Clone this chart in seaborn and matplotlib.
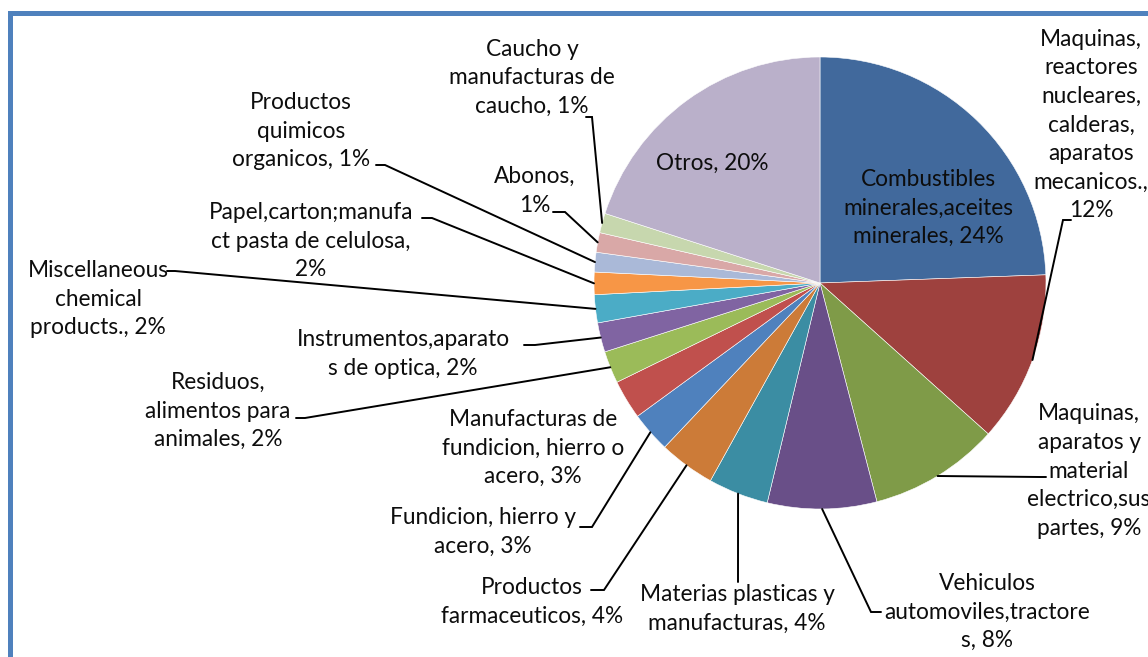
import matplotlib
matplotlib.use("Agg")
import matplotlib.pyplot as plt
import seaborn as sns
import numpy as np
from matplotlib.patches import Rectangle

# ---- data ----
categories = [
    "Combustibles minerales,aceites minerales",
    "Maquinas, reactores nucleares, calderas, aparatos mecanicos.",
    "Maquinas, aparatos y material electrico,sus partes",
    "Vehiculos automoviles,tractores",
    "Materias plasticas y manufacturas",
    "Productos farmaceuticos",
    "Fundicion, hierro y acero",
    "Manufacturas de fundicion, hierro o acero",
    "Residuos, alimentos para animales",
    "Instrumentos,aparatos de optica",
    "Miscellaneous chemical products.",
    "Papel,carton;manufact pasta de celulosa",
    "Productos quimicos organicos",
    "Abonos",
    "Caucho y manufacturas de caucho",
    "Otros",
]
values = [24.4, 12.2, 9.3, 7.8, 4.3, 4.0, 2.9, 2.8, 2.3, 2.1, 2.0, 1.6, 1.4, 1.4, 1.4, 20.0]

# label text as wrapped in the chart ({} = percentage)
label_templates = [
    "Combustibles\nminerales,aceites\nminerales, {}",
    "Maquinas,\nreactores\nnucleares,\ncalderas,\naparatos\nmecanicos.,\n{}",
    "Maquinas,\naparatos y\nmaterial\nelectrico,sus\npartes, {}",
    "Vehiculos\nautomoviles,tractore\ns, {}",
    "Materias plasticas y\nmanufacturas, {}",
    "Productos\nfarmaceuticos, {}",
    "Fundicion, hierro y\nacero, {}",
    "Manufacturas de\nfundicion, hierro o\nacero, {}",
    "Residuos,\nalimentos para\nanimales, {}",
    "Instrumentos,aparato\ns de optica, {}",
    "Miscellaneous\nchemical\nproducts., {}",
    "Papel,carton;manufa\nct pasta de celulosa,\n{}",
    "Productos\nquimicos\norganicos, {}",
    "Abonos,\n{}",
    "Caucho y\nmanufacturas de\ncaucho, {}",
    "Otros, {}",
]

colors = [
    "#41699C", "#9E413E", "#7F9B48", "#694F88", "#3B8DA3", "#CC7B38",
    "#4F81BD", "#C0504D", "#9BBB59", "#8064A2", "#4BACC6", "#F79646",
    "#AAB9D8", "#D9A8A7", "#C7D7AE", "#BAB0CA",
]

# ---- layout (image pixel coordinates, y downward) ----
W, H = 1148, 657
CX, CY, R = 820, 283, 226

def Y(y):
    return H - y

# label centre positions
label_pos = [
    (928, 208), (1091, 125), (1089, 471), (987, 612), (737, 609),
    (532, 602), (483, 532), (533, 448), (218, 411), (403, 354),
    (98, 299), (311, 241), (301, 131), (535, 191), (532, 78), (712, 163),
]
# leader lines: (elbow, end) or None
leaders = [
    None,
    ((1063, 220), (1071, 220)),
    ((1040, 477), (1046, 477)),
    ((871, 612), (881, 612)),
    ((738, 582), (738, 582)),
    ((604, 590), (591, 590)),
    ((592, 527), (580, 527)),
    None,
    ((305, 418), (296, 418)),
    ((535, 345), (524, 345)),
    ((175, 271), (167, 271)),
    ((432, 218), (422, 218)),
    ((385, 165), (376, 165)),
    ((565, 212), (553, 212)),
    ((592, 117), (586, 117)),
    None,
]

sns.set_theme(style="white")
plt.rcParams["font.family"] = ["Lato", "DejaVu Sans"]

fig = plt.figure(figsize=(W / 100, H / 100), dpi=100)
ax = fig.add_axes([0, 0, 1, 1])

wedges, _ = ax.pie(
    values, colors=colors, startangle=90, counterclock=False,
    center=(CX, Y(CY)), radius=R,
    wedgeprops=dict(linewidth=0.4, edgecolor="white"),
)
ax.set_xlim(0, W)
ax.set_ylim(0, H)
ax.set_aspect("auto")
ax.axis("off")

for i, (w, tmpl) in enumerate(zip(wedges, label_templates)):
    pct = "{:.0f}%".format(values[i])
    txt = tmpl.format(pct)
    lx, ly = label_pos[i]
    ax.text(lx, Y(ly), txt, ha="center", va="center", fontsize=16.3,
            linespacing=1.45, color="#0d0d0d", zorder=5)
    if leaders[i] is not None:
        mid = np.deg2rad((w.theta1 + w.theta2) / 2)
        sx = CX + R * np.cos(mid)
        sy = Y(CY) + R * np.sin(mid)
        (ex, ey), (fx, fy) = leaders[i]
        ax.plot([sx, ex, fx], [sy, Y(ey), Y(fy)], color="black", lw=1.4,
                solid_joinstyle="miter", zorder=4)

# blue chart frame (partially cropped)
frame = Rectangle((9.5, -60), 1400, Y(13) + 60, fill=False,
                  edgecolor="#4F81BD", linewidth=3.6, clip_on=False, zorder=6)
ax.add_patch(frame)

fig.savefig("out.png", dpi=100)
